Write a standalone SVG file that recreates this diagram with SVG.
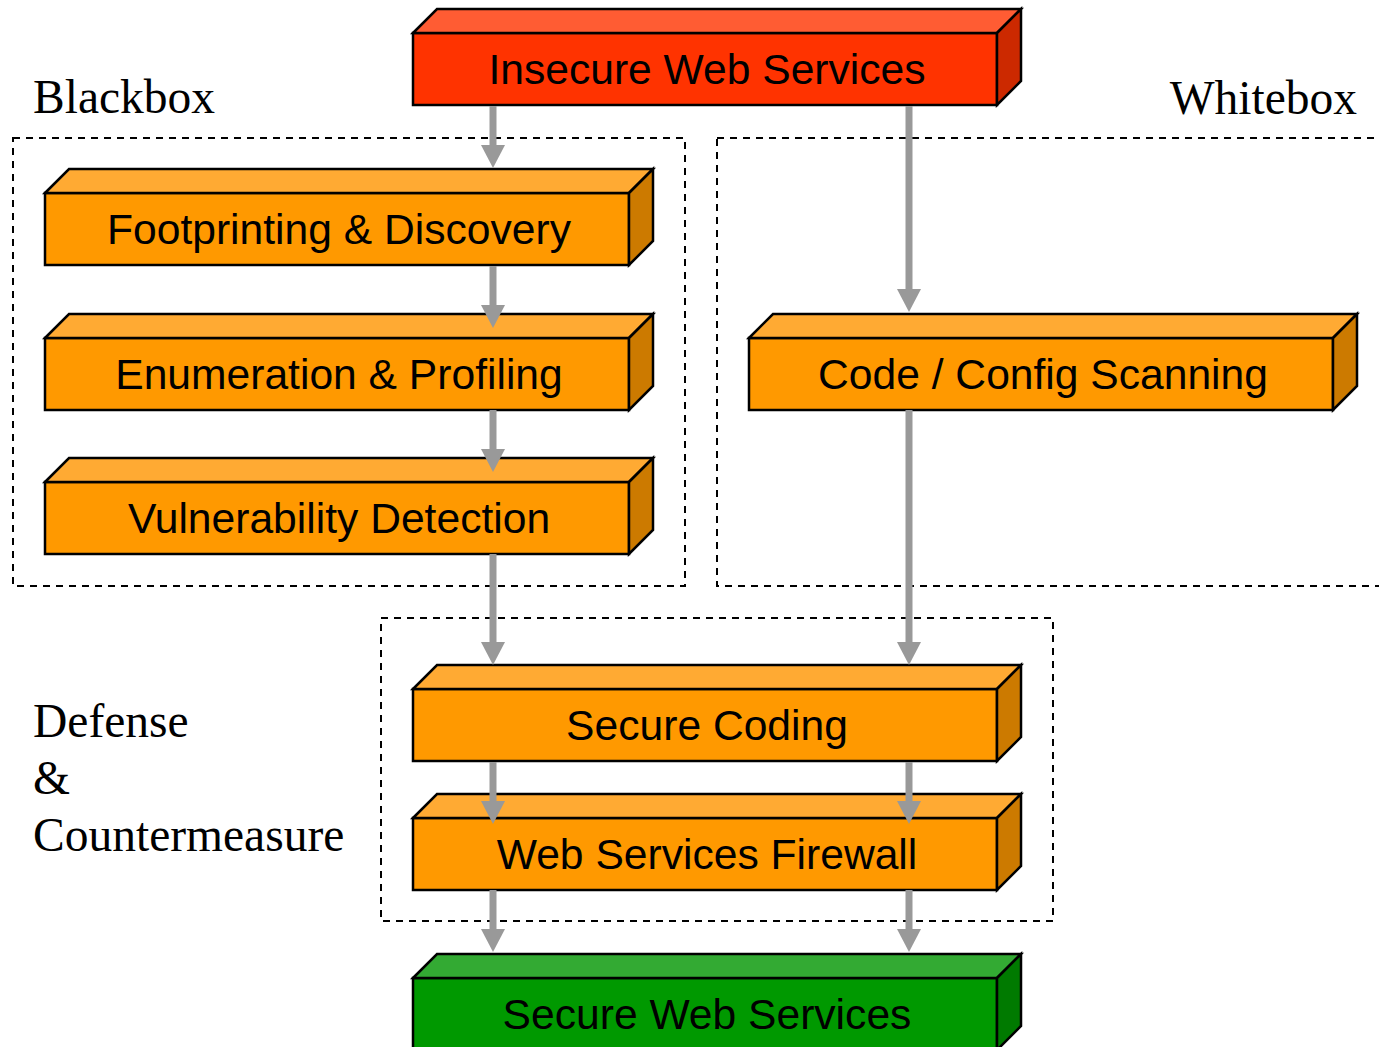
<svg xmlns="http://www.w3.org/2000/svg" width="1379" height="1047" viewBox="0 0 1379 1047">
  <style>
    .face { stroke: #000; stroke-width: 2.5; stroke-linejoin: miter; }
    .red .front { fill: #FF3300; } .red .top { fill: #FF5C33; } .red .side { fill: #CC2900; }
    .orange .front { fill: #FF9900; } .orange .top { fill: #FFAA33; } .orange .side { fill: #CC7A00; }
    .green .front { fill: #009900; } .green .top { fill: #33AA33; } .green .side { fill: #007A00; }
    .label { font-family: "Liberation Sans", Arial, sans-serif; font-size: 42.6px; fill: #000; text-anchor: middle; }
    .group-label { font-family: "Liberation Serif", "Times New Roman", serif; font-size: 47.5px; fill: #000; }
    .region { fill: none; stroke: #000; stroke-width: 2; stroke-dasharray: 7 6; }
    .conn { stroke: #999; stroke-width: 7; fill: none; marker-end: url(#head); }
  </style>
  <defs>
    <marker id="head" markerUnits="userSpaceOnUse" markerWidth="30" markerHeight="30" refX="1" refY="0" orient="auto" overflow="visible">
      <path d="M0,-12 L23,0 L0,12 z" fill="#999"/>
    </marker>
  </defs>

  <rect width="1379" height="1047" fill="#fff"/>

  <!-- grouping regions -->
  <g id="regions">
    <rect class="region" x="13" y="138" width="672" height="448"/>
    <rect class="region" x="717" y="138" width="700" height="448"/>
    <rect class="region" x="381" y="618" width="672" height="303"/>
    <text class="group-label" x="33" y="113">Blackbox</text>
    <text class="group-label" x="1357" y="114" text-anchor="end">Whitebox</text>
    <text class="group-label" x="33" y="737">Defense</text>
    <text class="group-label" x="33" y="794">&amp;</text>
    <text class="group-label" x="33" y="851">Countermeasure</text>
  </g>

  <!-- 3D blocks: front face 584x72 at the translate origin, depth 24 -->
  <g id="insecure" class="red" transform="translate(413,33)">
    <rect class="face front" x="0" y="0" width="584" height="72"/>
    <polygon class="face top" points="0,0 24,-24 608,-24 584,0"/>
    <polygon class="face side" points="584,0 608,-24 608,48 584,72"/>
    <text class="label" x="294" y="51">Insecure Web Services</text>
  </g>
  <g id="footprinting" class="orange" transform="translate(45,193)">
    <rect class="face front" x="0" y="0" width="584" height="72"/>
    <polygon class="face top" points="0,0 24,-24 608,-24 584,0"/>
    <polygon class="face side" points="584,0 608,-24 608,48 584,72"/>
    <text class="label" x="294" y="51">Footprinting &amp; Discovery</text>
  </g>
  <g id="enumeration" class="orange" transform="translate(45,338)">
    <rect class="face front" x="0" y="0" width="584" height="72"/>
    <polygon class="face top" points="0,0 24,-24 608,-24 584,0"/>
    <polygon class="face side" points="584,0 608,-24 608,48 584,72"/>
    <text class="label" x="294" y="51">Enumeration &amp; Profiling</text>
  </g>
  <g id="vulnerability" class="orange" transform="translate(45,482)">
    <rect class="face front" x="0" y="0" width="584" height="72"/>
    <polygon class="face top" points="0,0 24,-24 608,-24 584,0"/>
    <polygon class="face side" points="584,0 608,-24 608,48 584,72"/>
    <text class="label" x="294" y="51">Vulnerability Detection</text>
  </g>
  <g id="scanning" class="orange" transform="translate(749,338)">
    <rect class="face front" x="0" y="0" width="584" height="72"/>
    <polygon class="face top" points="0,0 24,-24 608,-24 584,0"/>
    <polygon class="face side" points="584,0 608,-24 608,48 584,72"/>
    <text class="label" x="294" y="51">Code / Config Scanning</text>
  </g>
  <g id="secure-coding" class="orange" transform="translate(413,689)">
    <rect class="face front" x="0" y="0" width="584" height="72"/>
    <polygon class="face top" points="0,0 24,-24 608,-24 584,0"/>
    <polygon class="face side" points="584,0 608,-24 608,48 584,72"/>
    <text class="label" x="294" y="51">Secure Coding</text>
  </g>
  <g id="firewall" class="orange" transform="translate(413,818)">
    <rect class="face front" x="0" y="0" width="584" height="72"/>
    <polygon class="face top" points="0,0 24,-24 608,-24 584,0"/>
    <polygon class="face side" points="584,0 608,-24 608,48 584,72"/>
    <text class="label" x="294" y="51">Web Services Firewall</text>
  </g>
  <g id="secure" class="green" transform="translate(413,978)">
    <rect class="face front" x="0" y="0" width="584" height="72"/>
    <polygon class="face top" points="0,0 24,-24 608,-24 584,0"/>
    <polygon class="face side" points="584,0 608,-24 608,48 584,72"/>
    <text class="label" x="294" y="51">Secure Web Services</text>
  </g>

  <!-- connectors: each line stops at the arrowhead base (tip = end + 23) -->
  <g id="connectors">
    <line class="conn" x1="493" y1="106" x2="493" y2="146"/>
    <line class="conn" x1="493" y1="266" x2="493" y2="306"/>
    <line class="conn" x1="493" y1="410" x2="493" y2="450"/>
    <line class="conn" x1="493" y1="554" x2="493" y2="643"/>
    <line class="conn" x1="493" y1="762" x2="493" y2="802"/>
    <line class="conn" x1="493" y1="890" x2="493" y2="930"/>
    <line class="conn" x1="909" y1="106" x2="909" y2="290"/>
    <line class="conn" x1="909" y1="410" x2="909" y2="643"/>
    <line class="conn" x1="909" y1="762" x2="909" y2="802"/>
    <line class="conn" x1="909" y1="890" x2="909" y2="930"/>
  </g>
</svg>
